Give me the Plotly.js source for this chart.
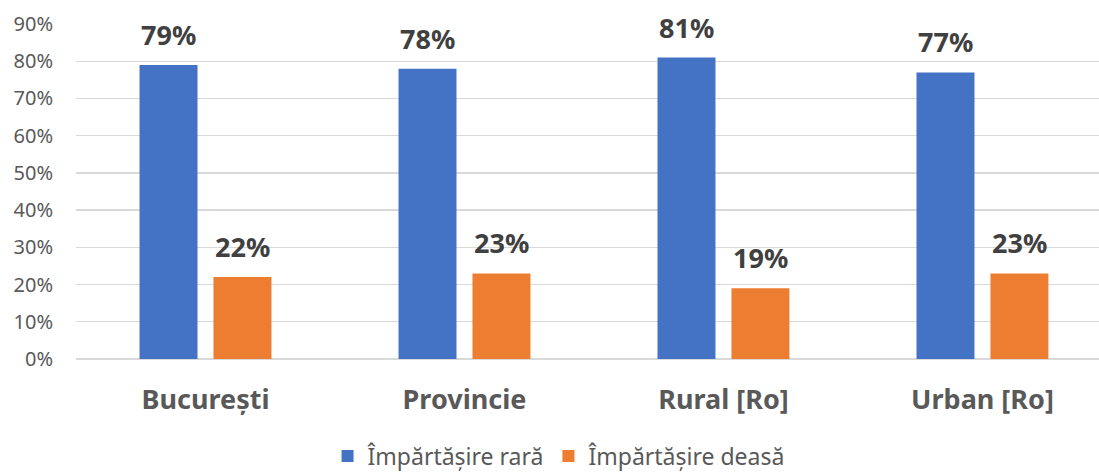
<!DOCTYPE html>
<html>
<head>
<meta charset="utf-8">
<script src="https://cdn.plot.ly/plotly-3.0.1.min.js"></script>
<style>html,body{margin:0;padding:0;background:#fff;}#chart{width:1099px;height:476px;}</style>
</head>
<body>
<div id="chart"></div>
<script>
const categories = ["București", "Provincie", "Rural [Ro]", "Urban [Ro]"];
const seriesNames = ["Împărtășire rară", "Împărtășire deasă"];
const rara = [0.79, 0.78, 0.81, 0.77];
const deasa = [0.22, 0.23, 0.19, 0.23];
const yTickVals = [0, 0.1, 0.2, 0.3, 0.4, 0.5, 0.6, 0.7, 0.8, 0.9];
const yTickText = ["0%", "10%", "20%", "30%", "40%", "50%", "60%", "70%", "80%", "90%"];

const colors = ["#4472C4", "#ED7D31"];
const FONT = "Noto Sans, Open Sans, sans-serif";

const traces = [
  {type: "bar", name: seriesNames[0], x: categories, y: rara, marker: {color: colors[0]}, hoverinfo: "none"},
  {type: "bar", name: seriesNames[1], x: categories, y: deasa, marker: {color: colors[1]}, hoverinfo: "none"}
];

const annotations = [];
[rara, deasa].forEach((vals, si) => {
  vals.forEach((v, i) => {
    annotations.push({
      x: categories[i], y: v, xref: "x", yref: "y",
      text: Math.round(v * 100) + "%",
      showarrow: false, yanchor: "bottom", xanchor: "center",
      xshift: si === 0 ? -37 : 37, yshift: 10,
      font: {family: FONT, size: 27, color: "#404040", weight: "bold"}
    });
  });
});

const layout = {
  width: 1099, height: 476,
  margin: {l: 76, r: 0, t: 24, b: 116.5, pad: 0, autoexpand: false},
  paper_bgcolor: "#ffffff", plot_bgcolor: "#ffffff",
  barmode: "group", bargap: 0.429, bargroupgap: 0.216,
  showlegend: true,
  legend: {
    orientation: "h", x: 0.4717, xanchor: "center", y: -0.29, yanchor: "middle",
    font: {family: FONT, size: 23, color: "#595959"},
    itemwidth: 30, traceorder: "normal"
  },
  xaxis: {
    type: "category", range: [-0.5, 3.45],
    showgrid: false, zeroline: false, showline: false, ticks: "",
    ticklabelstandoff: 22,
    tickfont: {family: FONT, size: 27, color: "#595959", weight: "bold"},
    fixedrange: true, automargin: false
  },
  yaxis: {
    range: [0, 0.9], tickvals: yTickVals, ticktext: yTickText,
    showgrid: true, gridcolor: "#D9D9D9", gridwidth: 1.3,
    zeroline: true, zerolinecolor: "#D9D9D9", zerolinewidth: 1.3,
    showline: false, ticks: "", ticklabelstandoff: 22,
    tickfont: {family: FONT, size: 20, color: "#595959"},
    fixedrange: true, automargin: false
  },
  annotations: annotations
};

Plotly.newPlot("chart", traces, layout, {displayModeBar: false, staticPlot: true});
</script>
</body>
</html>
